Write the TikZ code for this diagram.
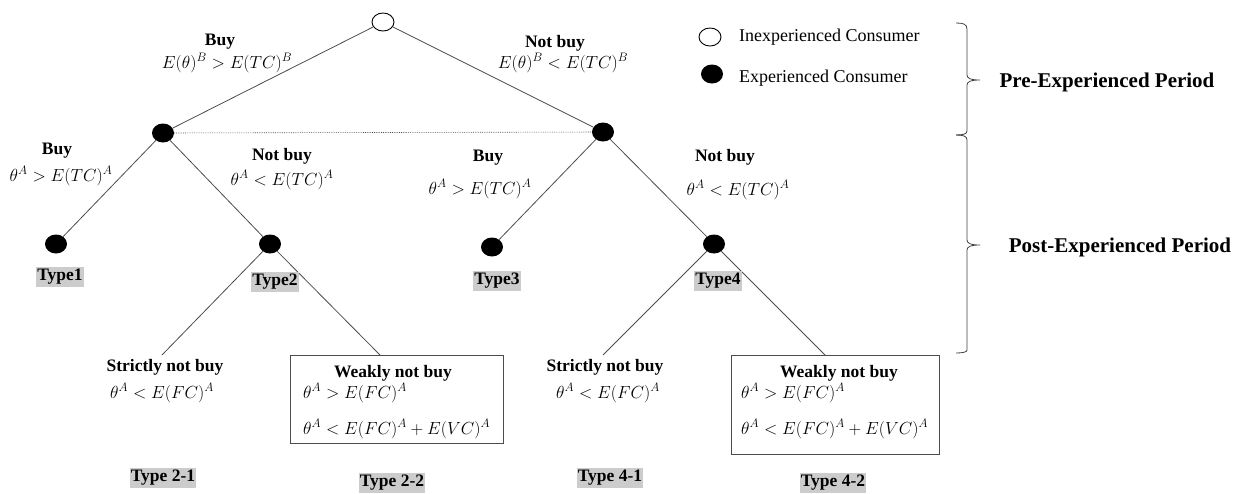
\RequirePackage{fix-cm}
\documentclass[tikz,border=0pt]{standalone}
\usepackage{fontspec}
\setmainfont{Liberation Serif}
\usetikzlibrary{shapes.geometric}
\tikzset{
  opennode/.style={ellipse,draw=black,line width=0.9pt,minimum width=22pt,minimum height=18pt,inner sep=0pt},
  fillnode/.style={ellipse,fill=black,minimum width=22pt,minimum height=19pt,inner sep=0pt},
  edge/.style={draw=black!70,line width=0.8pt},
  lbl/.style={font=\fontsize{17.5}{20}\selectfont\bfseries,inner sep=0pt},
  cond/.style={font=\fontsize{17.5}{20}\selectfont,inner sep=0pt},
  typelbl/.style={font=\fontsize{17.5}{20}\selectfont\bfseries,fill=black!20,inner xsep=1pt,inner ysep=2pt},
  legtxt/.style={font=\fontsize{18}{20}\selectfont,inner sep=0pt,anchor=west},
  period/.style={font=\fontsize{21}{24}\selectfont\bfseries,inner sep=0pt},
  box/.style={draw=black!70,line width=0.8pt,inner sep=0pt},
  bracestyle/.style={draw=black!75,line width=0.8pt}
}
\begin{document}
\begin{tikzpicture}[x=1pt,y=-1pt]
\useasboundingbox (0,0) rectangle (1247,493);
% tree nodes
\node[opennode] (root) at (383,22) {};
\node[fillnode] (L) at (163,133) {};
\node[fillnode] (R) at (603,132) {};
\node[fillnode] (t1) at (56,244) {};
\node[fillnode] (t2) at (270,244) {};
\node[fillnode] (t3) at (492,247) {};
\node[fillnode] (t4) at (714,244) {};
% boxes
\node[box,minimum width=213pt,minimum height=88pt] (box22) at (396.5,399) {};
\node[box,minimum width=208pt,minimum height=99pt] (box42) at (835,404.5) {};
\coordinate (e21) at (162,355);
\coordinate (e22) at (380,355);
\coordinate (e41) at (603,355);
\coordinate (e42) at (825,355);
% edges
\draw[edge] (root) -- (L);
\draw[edge] (root) -- (R);
\draw[edge,densely dotted,line width=0.6pt] (L) -- (R);
\draw[edge] (L) -- (t1);
\draw[edge] (L) -- (t2);
\draw[edge] (R) -- (t3);
\draw[edge] (R) -- (t4);
\draw[edge] (t2) -- (e21);
\draw[edge] (t2) -- (e22);
\draw[edge] (t4) -- (e41);
\draw[edge] (t4) -- (e42);
% labels level 1
\node[lbl] (buy0) at (220,42) {Buy};
\node[cond] (cond0) at (227,63) {$E(\theta)^B > E(TC)^B$};
\node[lbl] (nbuy0) at (555,43) {Not buy};
\node[cond] (ncond0) at (563,63) {$E(\theta)^B < E(TC)^B$};
% labels level 2
\node[lbl] (buyL) at (57,151) {Buy};
\node[cond] (condL) at (61,176) {$\theta^A > E(TC)^A$};
\node[lbl] (nbuyL) at (282,156) {Not buy};
\node[cond] (ncondL) at (282,180) {$\theta^A < E(TC)^A$};
\node[lbl] (buyR) at (488,158) {Buy};
\node[cond] (condR) at (480,189) {$\theta^A > E(TC)^A$};
\node[lbl] (nbuyR) at (725,157) {Not buy};
\node[cond] (ncondR) at (738,190) {$\theta^A < E(TC)^A$};
% type labels
\node[typelbl] (ty1) at (60,277) {Type1};
\node[typelbl] (ty2) at (275,282) {Type2};
\node[typelbl] (ty3) at (497,281) {Type3};
\node[typelbl] (ty4) at (718,281) {Type4};
% level 3 labels
\node[lbl] (s21) at (165,367) {Strictly not buy};
\node[cond] (s21c) at (162,393) {$\theta^A < E(FC)^A$};
\node[lbl] (w22) at (393,373) {Weakly not buy};
\node[cond,anchor=west] (w22a) at (303,393) {$\theta^A > E(FC)^A$};
\node[cond,anchor=west] (w22b) at (303,429) {$\theta^A < E(FC)^A + E(VC)^A$};
\node[lbl] (s41) at (605,367) {Strictly not buy};
\node[cond] (s41c) at (608,393) {$\theta^A < E(FC)^A$};
\node[lbl] (w42) at (839,373) {Weakly not buy};
\node[cond,anchor=west] (w42a) at (741,393) {$\theta^A > E(FC)^A$};
\node[cond,anchor=west] (w42b) at (741,429) {$\theta^A < E(FC)^A + E(VC)^A$};
\node[typelbl] (ty21) at (163,478) {Type 2-1};
\node[typelbl] (ty22) at (392,483) {Type 2-2};
\node[typelbl] (ty41) at (610,478) {Type 4-1};
\node[typelbl] (ty42) at (833,483) {Type 4-2};
% legend
\node[opennode] (legopen) at (710,37) {};
\node[legtxt] (legopent) at (739,37) {Inexperienced Consumer};
\node[fillnode] (legfill) at (712,74) {};
\node[legtxt] (legfillt) at (739,78) {Experienced Consumer};
% braces
\draw[bracestyle] (956,23) .. controls (963,23) and (967,24) .. (967,29) -- (967,75)
  .. controls (967,78) and (970,80) .. (980,80)
  .. controls (970,80) and (967,82) .. (967,85) -- (967,131)
  .. controls (967,134) and (963,135) .. (956,135);
\draw[bracestyle] (956,135) .. controls (963,135) and (967,136) .. (967,140) -- (967,240)
  .. controls (967,243) and (970,245) .. (980,245)
  .. controls (970,245) and (967,247) .. (967,250) -- (967,350)
  .. controls (967,352) and (963,353) .. (956,353);
\node[period] (pre) at (1107,82) {Pre-Experienced Period};
\node[period] (post) at (1120,247) {Post-Experienced Period};
\end{tikzpicture}
\end{document}
